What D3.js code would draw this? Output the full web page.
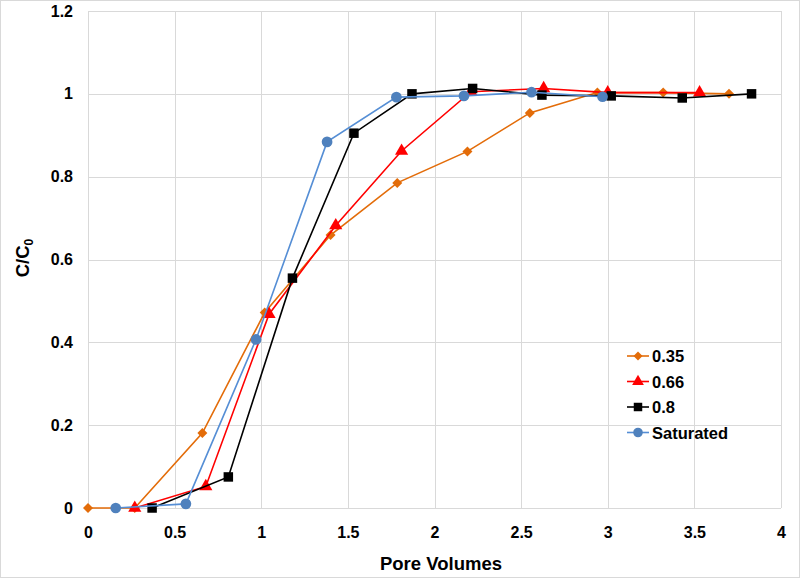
<!DOCTYPE html>
<html><head><meta charset="utf-8">
<script src="https://cdn.jsdelivr.net/npm/d3@7"></script>
<style>body{margin:0;background:#fff}svg{display:block}text{font-family:"Liberation Sans",Arial,sans-serif;font-weight:bold;fill:#000}</style>
</head><body><svg id="c" width="800" height="579"></svg>
<script>
const xTicks = [0, 0.5, 1, 1.5, 2, 2.5, 3, 3.5, 4];
const yTicks = [0, 0.2, 0.4, 0.6, 0.8, 1, 1.2];
const seriesNames = ["0.35", "0.66", "0.8", "Saturated"];
const pv035 = [0, 0.27, 0.66, 1.02, 1.40, 1.785, 2.19, 2.55, 2.94, 3.32, 3.70];
const c035  = [0, 0, 0.181, 0.472, 0.659, 0.785, 0.861, 0.954, 1.003, 1.003, 1.0];
const pv066 = [0.27, 0.68, 1.045, 1.43, 1.81, 2.21, 2.63, 3.0, 3.53];
const c066  = [0, 0.052, 0.468, 0.682, 0.862, 1.005, 1.013, 1.003, 1.003];
const pv08  = [0.37, 0.81, 1.18, 1.535, 1.87, 2.22, 2.62, 3.02, 3.43, 3.83];
const c08   = [0, 0.075, 0.555, 0.905, 1.0, 1.013, 0.997, 0.995, 0.99, 1.0];
const pvSat = [0.16, 0.565, 0.97, 1.38, 1.78, 2.17, 2.56, 2.97];
const cSat  = [0, 0.01, 0.407, 0.884, 0.992, 0.995, 1.004, 0.993];

const svg = d3.select("#c");
const x = d3.scaleLinear().domain([0, 4]).range([88, 781]);
const y = d3.scaleLinear().domain([0, 1.2]).range([508, 11]);

svg.append("rect").attr("x",0.5).attr("y",0.5).attr("width",799).attr("height",577).attr("fill","#fff").attr("stroke","#d9d9d9");

svg.append("g").selectAll("line").data(yTicks).join("line")
  .attr("x1", x(0)).attr("x2", x(4)).attr("y1", d => Math.round(y(d))+0.5).attr("y2", d => Math.round(y(d))+0.5)
  .attr("stroke", "#d9d9d9").attr("stroke-width", 1);
svg.append("g").selectAll("line").data(xTicks).join("line")
  .attr("y1", y(0)).attr("y2", y(1.2)).attr("x1", d => Math.round(x(d))+0.5).attr("x2", d => Math.round(x(d))+0.5)
  .attr("stroke", "#d9d9d9").attr("stroke-width", 1);

const xAxis = svg.append("g").attr("transform", `translate(0,${y(0)})`)
  .call(d3.axisBottom(x).tickValues(xTicks).tickSize(0).tickPadding(19).tickFormat(d3.format("")));
const yAxis = svg.append("g").attr("transform", `translate(${x(0)},0)`)
  .call(d3.axisLeft(y).tickValues(yTicks).tickSize(0).tickPadding(15).tickFormat(d3.format("")));
[xAxis, yAxis].forEach(a => {
  a.select(".domain").remove();
  a.selectAll("text").attr("font-size", 16).attr("font-family", "Liberation Sans, Arial, sans-serif").attr("font-weight","bold").attr("fill","#000");
});

svg.append("text").attr("x", 441).attr("y", 570).attr("text-anchor","middle").attr("font-size",18.5).text("Pore Volumes");
const yt = svg.append("text").attr("transform","translate(29,258) rotate(-90)").attr("text-anchor","middle").attr("font-size",18.5);
yt.append("tspan").text("C/C");
yt.append("tspan").attr("font-size",12).attr("dy",4).text("0");

// rotated-square diamond like Excel's
const excelDiamond = { draw(ctx, size) { const r = Math.sqrt(size / 2); ctx.moveTo(0, -r); ctx.lineTo(r, 0); ctx.lineTo(0, r); ctx.lineTo(-r, 0); ctx.closePath(); } };

const series = [
  {name: seriesNames[0], xs: pv035, ys: c035, line: "#E36C09", fill: "#E36C09", sym: excelDiamond, size: 50},
  {name: seriesNames[1], xs: pv066, ys: c066, line: "#FF0000", fill: "#FF0000", sym: d3.symbolTriangle, size: 75},
  {name: seriesNames[2], xs: pv08,  ys: c08,  line: "#000000", fill: "#000000", sym: d3.symbolSquare, size: 90},
  {name: seriesNames[3], xs: pvSat, ys: cSat, line: "#558ED5", fill: "#4F81BD", sym: d3.symbolCircle, size: 90}
];
const line = d3.line().x(d => x(d[0])).y(d => y(d[1]));
series.forEach(s => {
  const pts = s.xs.map((v, i) => [v, s.ys[i]]);
  const g = svg.append("g");
  g.append("path").datum(pts).attr("d", line).attr("fill","none").attr("stroke", s.line).attr("stroke-width", 1.6);
  g.selectAll("path.m").data(pts).join("path").attr("class","m")
    .attr("transform", d => `translate(${x(d[0])},${y(d[1])})`)
    .attr("d", d3.symbol().type(s.sym).size(s.size)).attr("fill", s.fill);
});

const lg = svg.append("g");
series.forEach((s, i) => {
  const yy = 356 + i * 25.5;
  lg.append("line").attr("x1", 627).attr("x2", 649).attr("y1", yy).attr("y2", yy).attr("stroke", s.line).attr("stroke-width", 1.6);
  lg.append("path").attr("transform", `translate(638,${yy})`).attr("d", d3.symbol().type(s.sym).size(s.size*0.8)).attr("fill", s.fill);
  lg.append("text").attr("x", 652).attr("y", yy + 6).attr("font-size", 16.5).text(s.name);
});
</script></body></html>
